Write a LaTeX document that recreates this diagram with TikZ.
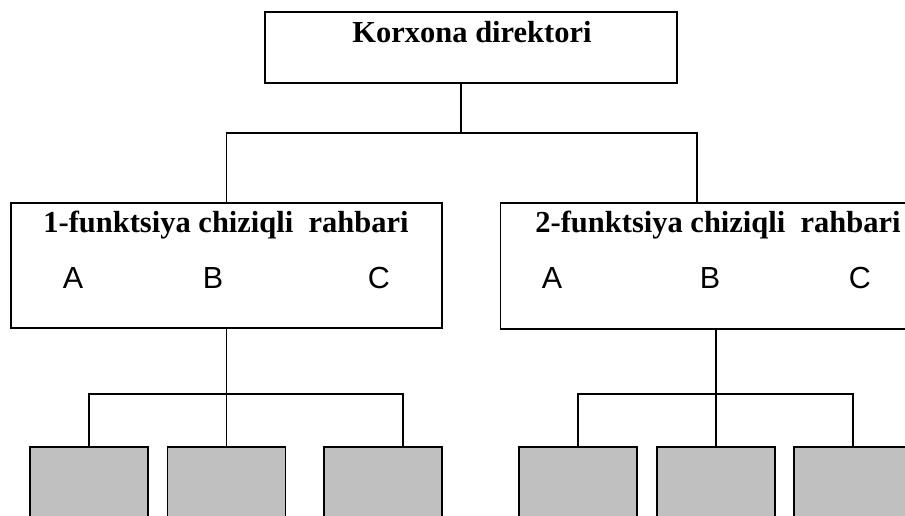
\documentclass[tikz,border=0pt]{standalone}
\usepackage{fontspec}
\setmainfont{Liberation Serif}
\newfontfamily\arialfont{Liberation Sans}
\usepackage{tikz}
\usetikzlibrary{positioning}
\definecolor{cellgray}{HTML}{C0C0C0}

\begin{document}
\begin{tikzpicture}[x=1pt, y=-1pt,
    box/.style={draw, rectangle, line width=1.6pt, inner sep=0pt},
    cell/.style={box, fill=cellgray, minimum width=118pt, minimum height=110pt, anchor=north},
    head/.style={anchor=base, inner sep=0pt, font=\fontsize{30.5}{36}\selectfont\bfseries},
    letter/.style={anchor=base, inner sep=0pt, font=\fontsize{30.5}{36}\selectfont\arialfont},
    link/.style={line width=1.6pt}]
    \useasboundingbox (0,0) rectangle (905,515);
    \clip (0,0) rectangle (905,515);

    \node[box, minimum width=412pt, minimum height=71pt] (dir) at (471,47.5) {};
    \node[head] (dirtext) at (472,42) {Korxona direktori};

    \node[box, minimum width=431pt, minimum height=125pt] (lead1) at (226.5,265.5) {};
    \node[head] (lead1text) at (226,232) {1-funktsiya chiziqli~ rahbari};
    \node[letter] (lead1a) at (73,288) {A};
    \node[letter] (lead1b) at (213,288) {B};
    \node[letter] (lead1c) at (379,288) {C};

    \node[box, minimum width=431pt, minimum height=126pt] (lead2) at (716,266) {};
    \node[head] (lead2text) at (718,232) {2-funktsiya chiziqli~ rahbari};
    \node[letter] (lead2a) at (552,288) {A};
    \node[letter] (lead2b) at (710,288) {B};
    \node[letter] (lead2c) at (860,288) {C};

    \node[cell] (cell11) at (89,446) {};
    \node[cell] (cell12) at (226.5,446) {};
    \node[cell] (cell13) at (383,446) {};
    \node[cell] (cell21) at (578,446) {};
    \node[cell] (cell22) at (716,446) {};
    \node[cell] (cell23) at (853,446) {};

    \coordinate (topbus) at (461,133);
    \coordinate (bus1) at (226.5,394);
    \coordinate (bus2) at (716,394);

    \draw[link] (dir.south -| topbus) -- (topbus);
    \draw[link] (lead1.north) |- (topbus) -| ([xshift=-19pt]lead2.north);

    \draw[link] (lead1.south) -- (bus1) -- (cell12.north);
    \draw[link] (cell11.north) |- (bus1) -| ([xshift=20pt]cell13.north);

    \draw[link] (lead2.south) -- (bus2) -- (cell22.north);
    \draw[link] (cell21.north) |- (bus2) -| (cell23.north);
\end{tikzpicture}
\end{document}
